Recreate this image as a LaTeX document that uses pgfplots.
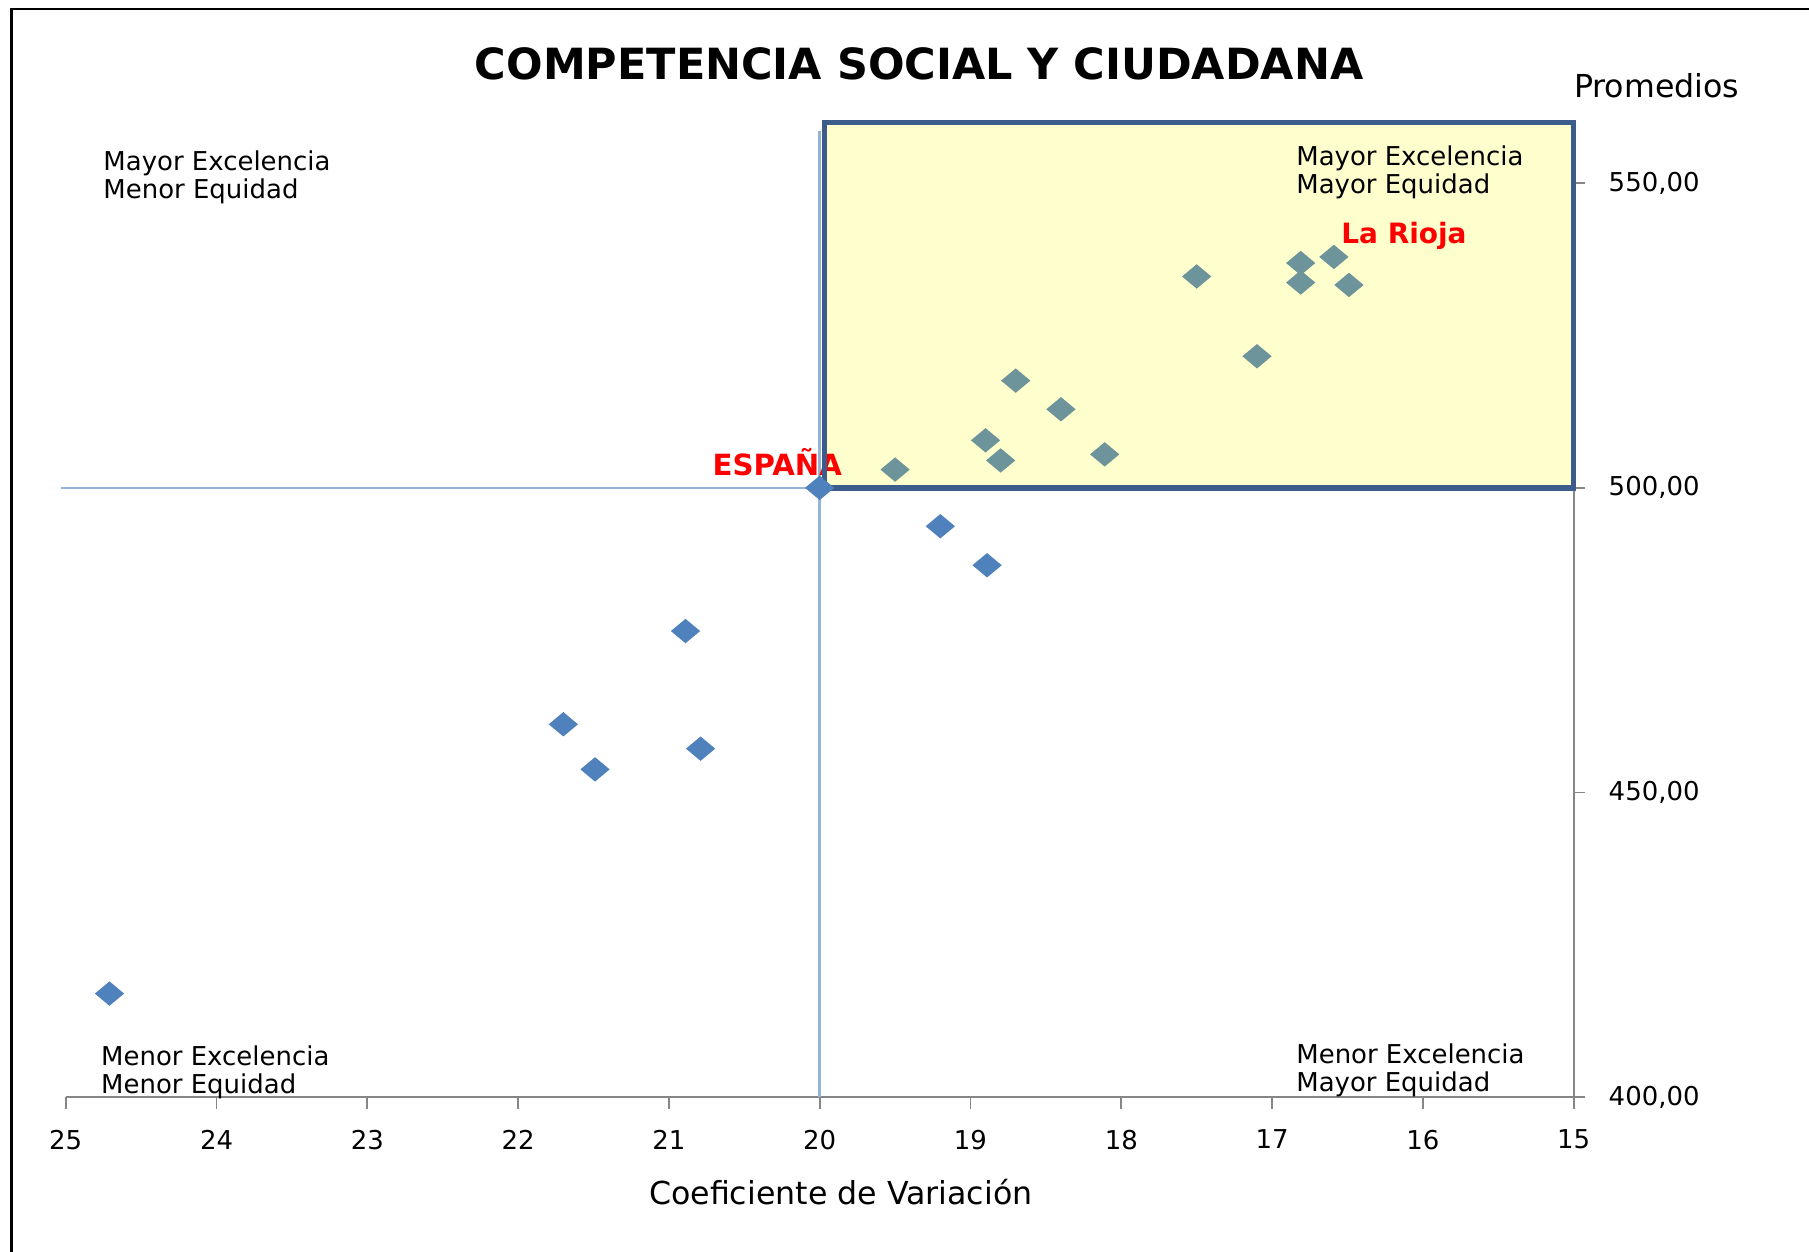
\documentclass[border=0pt]{standalone}
\usepackage{pgfplots}
\pgfplotsset{compat=1.18}
\usepackage{fontspec}
\setmainfont{DejaVu Sans}
\definecolor{ptblue}{RGB}{79,129,189}
\definecolor{ptteal}{RGB}{108,148,154}
\definecolor{cross}{RGB}{149,179,215}
\definecolor{boxfill}{RGB}{255,255,206}
\definecolor{boxline}{RGB}{60,92,140}
\definecolor{axgray}{RGB}{134,134,134}

\begin{document}
\begin{tikzpicture}
\useasboundingbox (-0.57,-1.34) rectangle (15.11,9.51);
\draw[line width=0.6pt] (-0.47,-2) -- (-0.47,9.43) -- (16,9.43);
\begin{axis}[
    scale only axis,
    width=13.07cm,
    height=8.45cm,
    x dir=reverse,
    xmin=15, xmax=25,
    ymin=400, ymax=560,
    axis x line*=bottom,
    axis y line*=right,
    axis line style={axgray, line width=0.45pt},
    xtick={15,16,...,25},
    ytick={400,450,500,550},
    tick align=outside,
    major tick length=0.1cm,
    tick style={axgray, line width=0.45pt},
    /pgf/number format/assume math mode=true,
    ticklabel style={font=\fontsize{6.4}{7}\selectfont},
    xticklabel style={yshift=-0.06cm},
    yticklabel style={xshift=0.08cm,
        /pgf/number format/.cd, fixed, fixed zerofill, precision=2, use comma, 1000 sep={}},
    title={COMPETENCIA SOCIAL Y CIUDADANA},
    every axis title shift=0pt,
    title style={at={(axis description cs:0.566,1.060)}, anchor=center,
        font=\bfseries\fontsize{10.6}{12}\selectfont},
    xlabel={Coeficiente de Variación},
    ylabel={Promedios},
    every axis x label/.style={at={(axis description cs:0.514,0)}, anchor=center,
        yshift=-0.82cm, font=\fontsize{7.8}{9}\selectfont},
    every axis y label/.style={at={(axis description cs:1.055,1.038)}, anchor=center,
        font=\fontsize{7.8}{9}\selectfont},
    clip=false,
]
% zona de mayor excelencia y mayor equidad
\fill[boxfill] (axis cs:19.97,500) rectangle (axis cs:15,560);

% lineas de referencia de España
\addplot[cross, line width=0.6pt] coordinates {(25.03,500) (20,500)};
\addplot[cross, line width=0.6pt] coordinates {(20,400) (20,558.5)};

% comunidades fuera del recuadro
\addplot[only marks, mark=diamond*, mark size=2.75pt, color=ptblue,
    mark options={xscale=1.6, fill=ptblue, draw=ptblue}]
coordinates {
    (24.71,417.0)
    (21.70,461.2)
    (21.49,453.8)
    (20.89,476.5)
    (20.79,457.2)
    (20.00,500.0)
    (19.20,493.7)
    (18.89,487.3)
};

% comunidades dentro del recuadro
\addplot[only marks, mark=diamond*, mark size=2.75pt, color=ptteal,
    mark options={xscale=1.6, fill=ptteal, draw=ptteal}]
coordinates {
    (19.50,503.0)
    (18.90,507.8)
    (18.80,504.5)
    (18.70,517.6)
    (18.40,512.9)
    (18.11,505.5)
    (17.50,534.7)
    (17.10,521.6)
    (16.81,536.9)
    (16.81,533.7)
    (16.59,537.9)
    (16.49,533.3)
};

\node[anchor=west, inner sep=0, text=red, font=\bfseries\fontsize{7.2}{8}\selectfont]
    at (axis cs:20.715,504.2) {ESPAÑA};
\node[anchor=west, inner sep=0, text=red, font=\bfseries\fontsize{6.9}{8}\selectfont]
    at (axis cs:16.546,541.3) {La Rioja};

\draw[boxline, line width=1.3pt] (axis cs:19.97,500) rectangle (axis cs:15,560);

\node[anchor=north west, inner sep=0, align=left, font=\fontsize{6.4}{6.9}\selectfont]
    at (axis cs:24.755,555.5) {Mayor Excelencia\\Menor Equidad};
\node[anchor=north west, inner sep=0, align=left, font=\fontsize{6.4}{6.9}\selectfont]
    at (axis cs:16.844,556.2) {Mayor Excelencia\\Mayor Equidad};
\node[anchor=north west, inner sep=0, align=left, font=\fontsize{6.4}{6.9}\selectfont]
    at (axis cs:24.77,408.5) {Menor Excelencia\\Menor Equidad};
\node[anchor=north west, inner sep=0, align=left, font=\fontsize{6.4}{6.9}\selectfont]
    at (axis cs:16.844,408.9) {Menor Excelencia\\Mayor Equidad};
\end{axis}
\end{tikzpicture}
\end{document}
